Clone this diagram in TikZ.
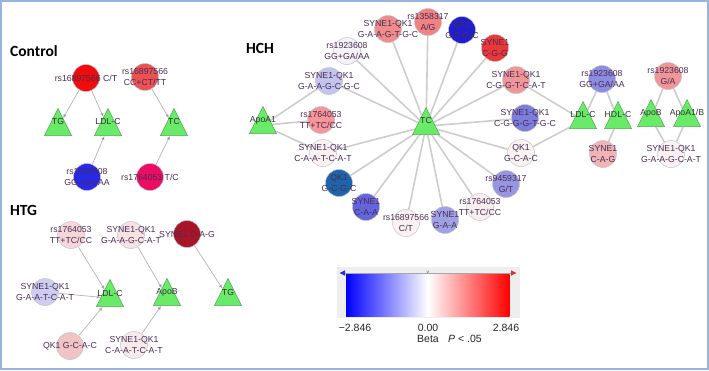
\documentclass[tikz,border=0pt]{standalone}
\usepackage{fontspec}
\setmainfont{Liberation Sans}
\newfontfamily\titlefont{Carlito}
\usetikzlibrary{shapes.geometric,arrows.meta,positioning}
\definecolor{framecol}{RGB}{150,180,222}
\definecolor{txtcol}{RGB}{72,45,85}
\definecolor{trifill}{RGB}{105,235,105}
\definecolor{tridraw}{RGB}{80,170,80}
\definecolor{ringcol}{RGB}{195,195,205}
\definecolor{linkcol}{RGB}{205,205,205}
\definecolor{arrcol}{RGB}{180,180,180}
\definecolor{cbback}{RGB}{238,238,238}
\pgfdeclarelayer{edges}
\pgfsetlayers{edges,main}
\tikzset{
    x=1pt,y=-1pt,
    snp/.style ={circle, draw=ringcol, line width=0.5pt, minimum size=27pt, inner sep=0pt},
    trait/.style ={isosceles triangle, isosceles triangle stretches, shape border rotate=90, yshift=-5.2pt,
        minimum width=27pt, minimum height=27pt, inner sep=0pt, draw=tridraw, line width=0.5pt, fill=trifill},
    lbl/.style = {font=\fontsize{8.7}{11.5}\selectfont, text=txtcol, align=center, inner sep=0pt},
    tlbl/.style = {font=\fontsize{8.7}{11.5}\selectfont, text=black!80, inner sep=0pt, yshift=5.2pt},
    title/.style = {font=\titlefont\bfseries\fontsize{15.5}{18}\selectfont, anchor=west, inner sep=0pt},
    arr/.style = {draw=arrcol, line width=0.7pt, -{Latex[length=4pt,width=3.5pt]}},
    link/.style = {draw=linkcol, line width=1.6pt},
    cbtext/.style = {font=\fontsize{10.5}{12}\selectfont, text=black!85, inner sep=0pt}
}
\begin{document}
\begin{tikzpicture}
    \useasboundingbox (0,0) rectangle (709,370);
    \draw[framecol, line width=2pt] (1,1) rectangle (708,369);

    % Control
    \node[title] (ctitle) at (10,51) {Control};
    \node[snp, fill={rgb,255:red,240;green,12;blue,12}, label={[lbl]center:rs16897566 C/T}] (c1) at (86,78) {};
    \node[snp, fill={rgb,255:red,236;green,82;blue,82}, label={[lbl]center:rs16897566\\CC+CT/TT}] (c2) at (145,77) {};
    \node[trait, label={[tlbl]center:TG}] (ctg) at (58,122) {};
    \node[trait, label={[tlbl]center:LDL-C}] (cldl) at (108,122) {};
    \node[trait, label={[tlbl]center:TC}] (ctc) at (174,122) {};
    \node[snp, fill={rgb,255:red,40;green,40;blue,236}, label={[lbl]center:rs1923608\\GG+GA/AA}] (c3) at (87,177) {};
    \node[snp, fill={rgb,255:red,236;green,12;blue,100}, label={[lbl]center:rs1764053 T/C}] (c4) at (150,177) {};

    % HTG
    \node[title] (htitle) at (10,210) {HTG};
    \node[snp, fill={rgb,255:red,246;green,215;blue,215}, label={[lbl]center:rs1764053\\TT+TC/CC}] (t1) at (71,235) {};
    \node[snp, fill={rgb,255:red,246;green,226;blue,226}, label={[lbl]center:SYNE1-QK1\\G-A-A-G-C-A-T}] (t2) at (131,235) {};
    \node[snp, fill={rgb,255:red,170;green,20;blue,40}, label={[lbl]center:SYNE1 C-A-G}] (t3) at (187,234) {};
    \node[snp, fill={rgb,255:red,205;green,205;blue,240}, label={[lbl]center:SYNE1-QK1\\G-A-A-T-C-A-T}] (t4) at (45,292) {};
    \node[trait, label={[tlbl]center:LDL-C}] (tldl) at (110,293) {};
    \node[trait, label={[tlbl]center:ApoB}] (tapob) at (167,292) {};
    \node[trait, label={[tlbl]center:TG}] (ttg) at (228,292) {};
    \node[snp, fill={rgb,255:red,240;green,196;blue,196}, label={[lbl]center:QK1 G-C-A-C}] (t5) at (70,346) {};
    \node[snp, fill={rgb,255:red,246;green,234;blue,234}, label={[lbl]center:SYNE1-QK1\\C-A-A-T-C-A-T}] (t6) at (134,345) {};

    % HCH
    \node[title] (hctitle) at (246,48) {HCH};
    \node[trait, label={[tlbl]center:TC}] (htc) at (426,121) {};
    \node[trait, label={[tlbl]center:ApoA1}] (hapoa) at (263,120) {};
    \node[snp, fill={rgb,255:red,240;green,140;blue,140}, label={[lbl]center:SYNE1-QK1\\G-A-A-G-T-G-C}] (h1) at (388,29) {};
    \node[snp, fill={rgb,255:red,240;green,130;blue,130}, label={[lbl]center:rs1358317\\A/G}] (h2) at (428,22) {};
    \node[snp, fill={rgb,255:red,30;green,30;blue,205}, label={[lbl]center:QK1\\G-T-G-C}] (h3) at (462,30) {};
    \node[snp, fill={rgb,255:red,236;green,55;blue,55}, label={[lbl]center:SYNE1\\C-G-G}] (h4) at (495,48) {};
    \node[snp, fill={rgb,255:red,246;green,241;blue,246}, label={[lbl]center:rs1923608\\GG+GA/AA}] (h5) at (347,51) {};
    \node[snp, fill={rgb,255:red,195;green,195;blue,238}, label={[lbl]center:SYNE1-QK1\\G-A-A-G-C-G-C}] (h6) at (329,81) {};
    \node[snp, fill={rgb,255:red,246;green,150;blue,150}, label={[lbl]center:rs1764053\\TT+TC/CC}] (ha) at (321,120) {};
    \node[snp, fill={rgb,255:red,250;green,241;blue,241}, label={[lbl]center:SYNE1-QK1\\C-A-A-T-C-A-T}] (h7) at (323,153) {};
    \node[snp, fill={rgb,255:red,30;green,100;blue,170}, label={[lbl]center:QK1\\G-C-G-C}] (h8) at (339,183) {};
    \node[snp, fill={rgb,255:red,100;green,100;blue,220}, label={[lbl]center:SYNE1\\C-A-A}] (h9) at (366,207) {};
    \node[snp, fill={rgb,255:red,250;green,241;blue,241}, label={[lbl]center:rs16897566\\C/T}] (h10) at (406,223) {};
    \node[snp, fill={rgb,255:red,160;green,160;blue,230}, label={[lbl]center:SYNE1\\G-A-A}] (h11) at (445,220) {};
    \node[snp, fill={rgb,255:red,248;green,238;blue,238}, label={[lbl]center:rs1764053\\TT+TC/CC}] (h12) at (480,207) {};
    \node[snp, fill={rgb,255:red,150;green,150;blue,226}, label={[lbl]center:rs9459317\\G/T}] (h13) at (506,184) {};
    \node[snp, fill={rgb,255:red,250;green,241;blue,241}, label={[lbl]center:QK1\\G-C-A-C}] (h14) at (521,153) {};
    \node[snp, fill={rgb,255:red,125;green,125;blue,220}, label={[lbl]center:SYNE1-QK1\\C-G-G-G-T-G-C}] (h15) at (525,118) {};
    \node[snp, fill={rgb,255:red,240;green,150;blue,150}, label={[lbl]center:SYNE1-QK1\\C-G-G-T-C-A-T}] (h16) at (516,80) {};
    \node[trait, label={[tlbl]center:LDL-C}] (hldl) at (583,115) {};
    \node[trait, label={[tlbl]center:HDL-C}] (hhdl) at (618,115) {};
    \node[snp, fill={rgb,255:red,140;green,140;blue,225}, label={[lbl]center:rs1923608\\GG+GA/AA}] (hr1) at (602,79) {};
    \node[snp, fill={rgb,255:red,240;green,180;blue,180}, label={[lbl]center:SYNE1\\C-A-G}] (hr2) at (603,154) {};
    \node[trait, label={[tlbl]center:ApoB}] (hapob) at (651,113) {};
    \node[trait, label={[tlbl]center:ApoA1/B}] (hapoab) at (687,113) {};
    \node[snp, fill={rgb,255:red,240;green,150;blue,150}, label={[lbl]center:rs1923608\\G/A}] (hr3) at (668,76) {};
    \node[snp, fill={rgb,255:red,250;green,242;blue,242}, label={[lbl]center:SYNE1-QK1\\G-A-A-G-C-A-T}] (hr4) at (671,154) {};

    \begin{pgfonlayer}{edges}
        % Control arrows
        \path[arr] (c1) edge (ctg) edge (cldl);
        \path[arr] (c2) edge (ctc);
        \path[arr] (c3) edge (cldl);
        \path[arr] (c4) edge (ctc);
        % HTG arrows
        \path[arr] (t1) edge (tldl);
        \path[arr] (t4) edge (tldl);
        \path[arr] (t5) edge (tldl);
        \path[arr] (t2) edge (tapob);
        \path[arr] (t6) edge (tapob);
        \path[arr] (t3) edge (ttg);
        % HCH links
        \foreach \i in {1,...,16}
            \path[link] (htc) edge (h\i);
        \path[link] (hapoa) edge (h6) edge (ha) edge (h7);
        \path[link] (hldl) edge (h16) edge (h14) edge (hr1);
        \path[link] (hhdl) edge (hr1) edge (hr2);
        \path[link] (hapob) edge (hr3) edge (hr4);
        \path[link] (hapoab) edge (hr3) edge (hr4);
    \end{pgfonlayer}

    % colour bar
    \fill[cbback] (337,267) rectangle (520,318);
    \shade[left color=blue, right color=red, middle color=white] (346,274.5) rectangle (509.5,316.5);
    \draw[gray!70, line width=0.4pt] (344,273.5) -- (511,273.5);
    \fill[blue!65!gray] (339.5,273) -- (345,270.3) -- (345,275.7) -- cycle;
    \fill[red!55!gray] (516.5,273) -- (511,270.3) -- (511,275.7) -- cycle;
    \draw[gray, line width=0.4pt] (426.6,270.6) -- (427.8,273) -- (429,270.6);
    \node[cbtext] (cbmin) at (355,327.5) {−2.846};
    \node[cbtext] (cbzero) at (428,327.5) {0.00};
    \node[cbtext] (cbmax) at (506,327.5) {2.846};
    \node[cbtext] (cbbeta) at (428,338.5) {Beta};
    \node[cbtext] (cbp) at (465,338.5) {\textit{P} < .05};
\end{tikzpicture}
\end{document}
